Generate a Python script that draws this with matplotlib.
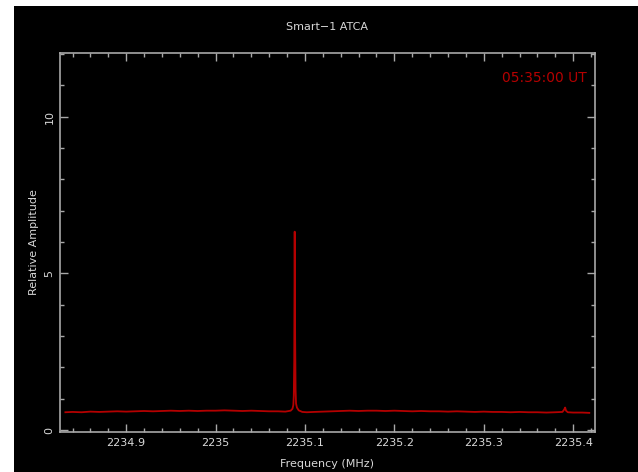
import matplotlib
matplotlib.use('Agg')
import matplotlib.pyplot as plt
from matplotlib.patches import Rectangle
from matplotlib.ticker import MultipleLocator

# spectrum (MHz, relative amplitude)
freq = [2234.832, 2234.840, 2234.850, 2234.860, 2234.870, 2234.880, 2234.890,
        2234.900, 2234.910, 2234.920, 2234.930, 2234.940, 2234.950, 2234.960,
        2234.970, 2234.980, 2234.990, 2235.000, 2235.010, 2235.020, 2235.030,
        2235.040, 2235.050, 2235.060, 2235.070, 2235.078, 2235.084, 2235.086,
        2235.087, 2235.0875, 2235.088, 2235.0885, 2235.089, 2235.0895, 2235.090,
        2235.091, 2235.093, 2235.097, 2235.102, 2235.110, 2235.120, 2235.130,
        2235.140, 2235.150, 2235.160, 2235.170, 2235.180, 2235.190, 2235.200,
        2235.210, 2235.220, 2235.230, 2235.240, 2235.250, 2235.260, 2235.270,
        2235.280, 2235.290, 2235.300, 2235.310, 2235.320, 2235.330, 2235.340,
        2235.350, 2235.360, 2235.370, 2235.380, 2235.388, 2235.390, 2235.391,
        2235.392, 2235.394, 2235.400, 2235.410, 2235.418]
amp = [0.57, 0.58, 0.57, 0.59, 0.58, 0.59, 0.60,
       0.59, 0.60, 0.61, 0.60, 0.61, 0.62, 0.61,
       0.62, 0.61, 0.62, 0.62, 0.63, 0.62, 0.61,
       0.62, 0.61, 0.60, 0.60, 0.59, 0.62, 0.68,
       0.80, 1.10, 2.20, 6.33, 3.00, 1.30, 0.85,
       0.72, 0.63, 0.58, 0.57, 0.58, 0.59, 0.60,
       0.61, 0.62, 0.61, 0.62, 0.62, 0.61, 0.62,
       0.61, 0.60, 0.61, 0.60, 0.60, 0.59, 0.60,
       0.59, 0.58, 0.59, 0.58, 0.58, 0.57, 0.58,
       0.57, 0.57, 0.56, 0.57, 0.58, 0.66, 0.72,
       0.62, 0.57, 0.56, 0.56, 0.55]

x_ticks = [2234.9, 2235.0, 2235.1, 2235.2, 2235.3, 2235.4]
x_labels = ['2234.9', '2235', '2235.1', '2235.2', '2235.3', '2235.4']
y_ticks = [0, 5, 10]

FG = '#d8d8d8'
FRAME = '#a8a8a8'
RED = '#b40000'

fig = plt.figure(figsize=(6.38, 4.72), dpi=100)
fig.patch.set_facecolor('white')
fig.patches.append(Rectangle((14 / 638, 0), 1, (472 - 6) / 472,
                             transform=fig.transFigure, facecolor='black',
                             edgecolor='none', zorder=-10))

ax = fig.add_axes([60 / 638, 1 - 432 / 472, 535 / 638, 379 / 472])
ax.set_zorder(5)
ax.set_facecolor('black')
ax.plot(freq, amp, color=RED, lw=1.3)

ax.set_xlim(2234.826, 2235.4244)
ax.set_ylim(-0.06, 12.03)
ax.set_xticks(x_ticks)
ax.set_xticklabels(x_labels)
ax.set_yticks(y_ticks)
ax.xaxis.set_minor_locator(MultipleLocator(0.02))
ax.yaxis.set_minor_locator(MultipleLocator(1))
for lab in ax.get_yticklabels():
    lab.set_rotation(90)
    lab.set_va('center')

ax.tick_params(which='both', direction='in', top=True, right=True,
               colors=FRAME, labelcolor=FG, labelsize=8, width=1)
ax.tick_params(which='major', length=5.5)
ax.tick_params(which='minor', length=3)
ax.tick_params(axis='x', pad=4)
ax.tick_params(axis='y', pad=4)
for s in ax.spines.values():
    s.set_color(FRAME)
    s.set_linewidth(1.2)

ax.set_xlabel('Frequency (MHz)', color=FG, fontsize=8, labelpad=8)
ax.set_ylabel('Relative Amplitude', color=FG, fontsize=8, labelpad=4)
fig.text(327 / 638, 1 - 27 / 472, 'Smart\u22121 ATCA', color=FG, fontsize=8,
         ha='center', va='center', zorder=6)
ax.text(0.985, 0.935, '05:35:00 UT', color=RED, fontsize=10,
        ha='right', va='center', transform=ax.transAxes)

fig.savefig('out.png', dpi=100, facecolor=fig.get_facecolor())
